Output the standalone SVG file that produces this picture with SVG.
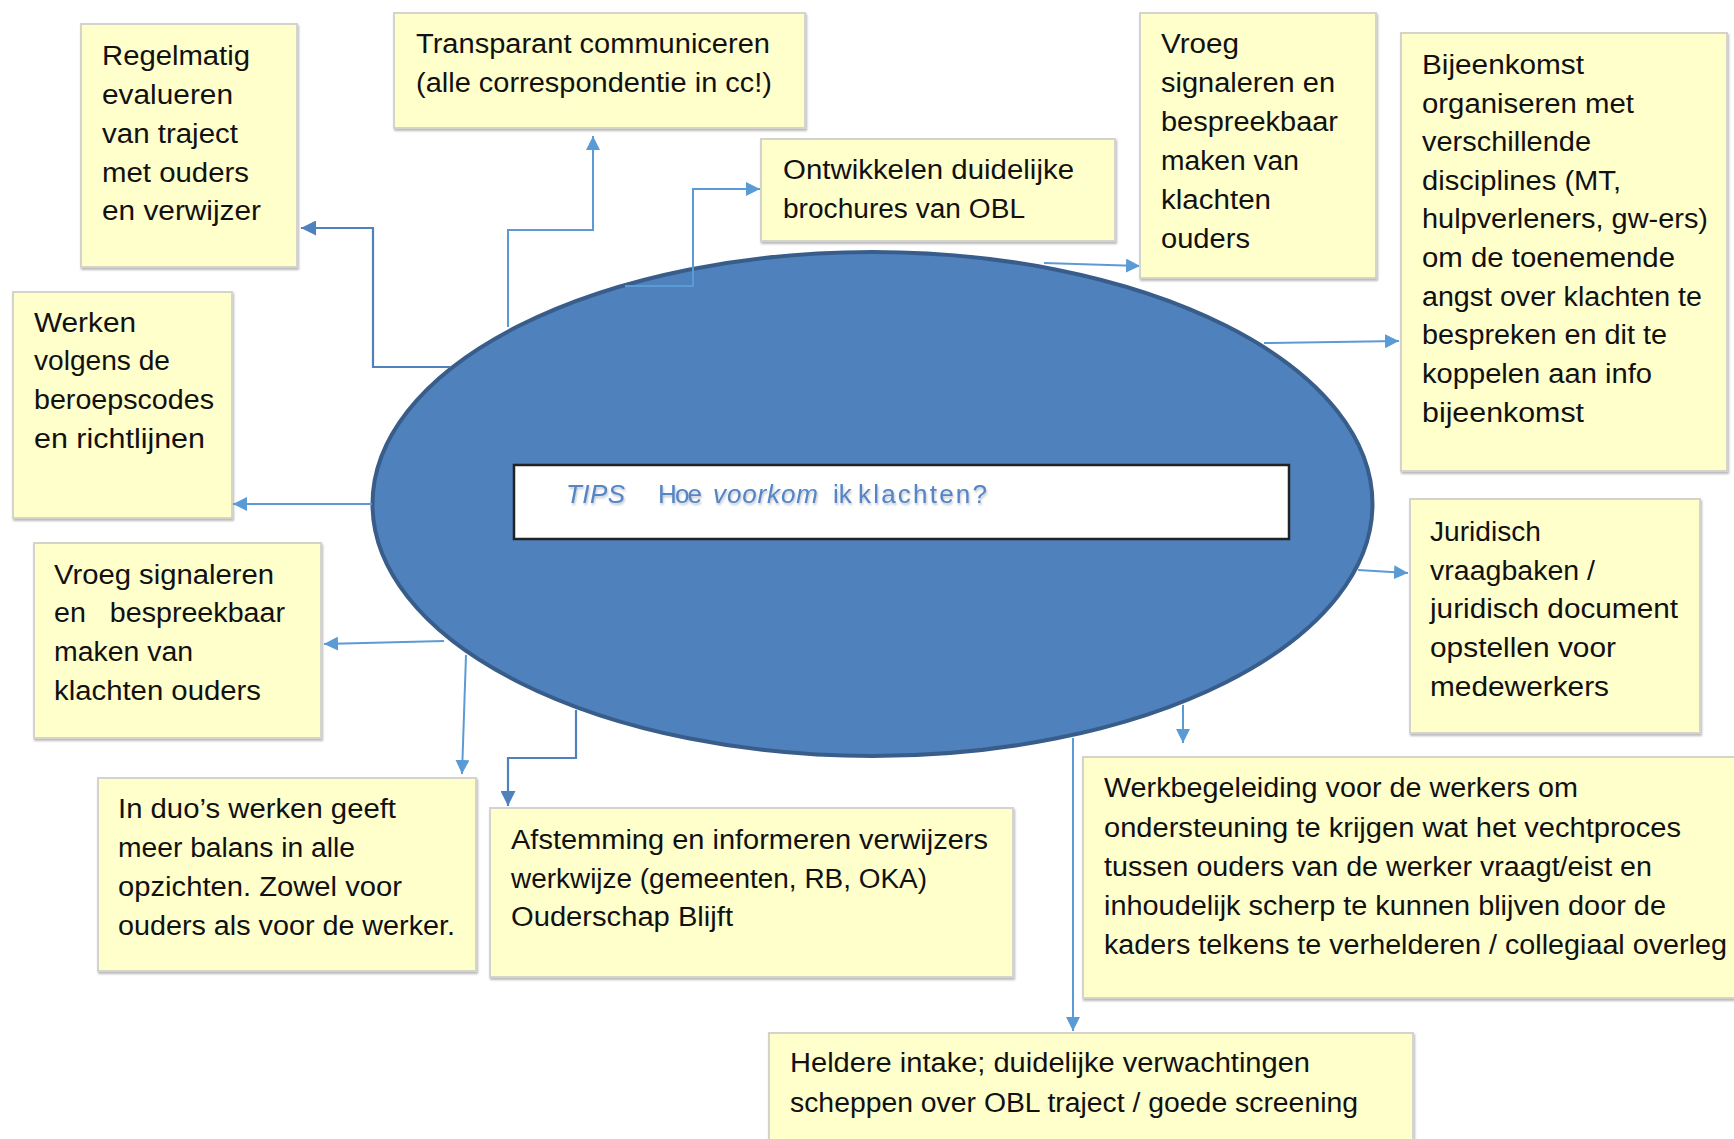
<svg xmlns="http://www.w3.org/2000/svg" width="1734" height="1139" viewBox="0 0 1734 1139">
<style>
.box{fill:#FFFFCC;stroke:#D4D4CC;stroke-width:2}
.t{font-family:"Liberation Sans",Arial,sans-serif;font-size:27px;fill:#111}
.c1{fill:none;stroke:#4F81BD;stroke-width:2.2}
.c2{fill:none;stroke:#5B9BD5;stroke-width:2}
.tips{font-family:"Liberation Sans",Arial,sans-serif;font-size:26px;fill:#5585C4}
.it{font-style:italic}
</style>
<defs>
<marker id="a2" viewBox="0 0 10 10" refX="10" refY="5" markerWidth="14" markerHeight="14" markerUnits="userSpaceOnUse" orient="auto">
<path d="M0,0 L10,5 L0,10 z" fill="#5B9BD5"/>
</marker>
<marker id="b1" viewBox="0 0 10 10" refX="10" refY="5" markerWidth="15" markerHeight="15" markerUnits="userSpaceOnUse" orient="auto">
<path d="M0,0 L10,5 L0,10 z" fill="#4F81BD"/>
</marker>
<filter id="sh" x="-5%" y="-5%" width="110%" height="115%">
<feGaussianBlur in="SourceAlpha" stdDeviation="1"/>
<feOffset dx="1" dy="1.5" result="o"/>
<feFlood flood-color="#8a8a8a" flood-opacity="0.6"/>
<feComposite in2="o" operator="in"/>
<feMerge><feMergeNode/><feMergeNode in="SourceGraphic"/></feMerge>
</filter>
<filter id="ts" x="-10%" y="-20%" width="120%" height="150%">
<feGaussianBlur in="SourceAlpha" stdDeviation="0.8"/>
<feOffset dx="1" dy="1.5" result="o"/>
<feFlood flood-color="#7a8aa0" flood-opacity="0.5"/>
<feComposite in2="o" operator="in"/>
<feMerge><feMergeNode/><feMergeNode in="SourceGraphic"/></feMerge>
</filter>
</defs>
<rect width="1734" height="1139" fill="#fff"/>

<g id="center">
<ellipse cx="872.5" cy="504" rx="500" ry="252" fill="#4F81BD" stroke="#385D8A" stroke-width="4"/>
<rect x="514" y="465" width="775" height="74" fill="#fff" stroke="#222" stroke-width="2.5"/>
<g filter="url(#ts)">
<text class="tips it" x="566" y="503" textLength="59">TIPS</text>
<text class="tips" x="658" y="503" textLength="44">Hoe</text>
<text class="tips it" x="713" y="503" textLength="105">voorkom</text>
<text class="tips" x="833" y="503">ik</text>
<text class="tips" x="858" y="503" textLength="129">klachten?</text>
</g>
</g>

<g id="connectors">
<path class="c1" d="M450 367 H373 V228 H301" marker-end="url(#b1)"/>
<path class="c2" d="M508 327 V230 H593 V136" marker-end="url(#a2)"/>
<path class="c2" d="M625 286 H693 V189 H760" marker-end="url(#a2)"/>
<path class="c2" d="M1044 263 L1140 266" marker-end="url(#a2)"/>
<path class="c2" d="M1264 343 L1399 341" marker-end="url(#a2)"/>
<path class="c2" d="M372 504 H233" marker-end="url(#a2)"/>
<path class="c2" d="M444 641 L324 644" marker-end="url(#a2)"/>
<path class="c2" d="M466 655 L462 774" marker-end="url(#a2)"/>
<path class="c1" d="M576 710 V758 H508 V806" marker-end="url(#b1)"/>
<path class="c2" d="M1358 570 L1408 573" marker-end="url(#a2)"/>
<path class="c2" d="M1183 705 V743" marker-end="url(#a2)"/>
<path class="c2" d="M1073 738 V1031" marker-end="url(#a2)"/>
</g>

<g id="n-regelmatig">
<rect class="box" x="81" y="24" width="216" height="243" filter="url(#sh)"/>
<text class="t"><tspan x="102" y="65" textLength="148" lengthAdjust="spacingAndGlyphs">Regelmatig</tspan><tspan x="102" y="104" textLength="131" lengthAdjust="spacingAndGlyphs">evalueren</tspan><tspan x="102" y="143" textLength="136" lengthAdjust="spacingAndGlyphs">van traject</tspan><tspan x="102" y="182" textLength="147" lengthAdjust="spacingAndGlyphs">met ouders</tspan><tspan x="102" y="220" textLength="159" lengthAdjust="spacingAndGlyphs">en verwijzer</tspan></text>
</g>

<g id="n-transparant">
<rect class="box" x="394" y="13" width="411" height="115" filter="url(#sh)"/>
<text class="t"><tspan x="416" y="53" textLength="354" lengthAdjust="spacingAndGlyphs">Transparant communiceren</tspan><tspan x="416" y="92" textLength="356" lengthAdjust="spacingAndGlyphs">(alle correspondentie in cc!)</tspan></text>
</g>

<g id="n-ontwikkelen">
<rect class="box" x="761" y="139" width="354" height="102" filter="url(#sh)"/>
<text class="t"><tspan x="783" y="179" textLength="291" lengthAdjust="spacingAndGlyphs">Ontwikkelen duidelijke</tspan><tspan x="783" y="218" textLength="242" lengthAdjust="spacingAndGlyphs">brochures van OBL</tspan></text>
</g>

<g id="n-vroeg-top">
<rect class="box" x="1140" y="13" width="236" height="265" filter="url(#sh)"/>
<text class="t"><tspan x="1161" y="53" textLength="78" lengthAdjust="spacingAndGlyphs">Vroeg</tspan><tspan x="1161" y="92" textLength="174" lengthAdjust="spacingAndGlyphs">signaleren en</tspan><tspan x="1161" y="131" textLength="177" lengthAdjust="spacingAndGlyphs">bespreekbaar</tspan><tspan x="1161" y="170" textLength="138" lengthAdjust="spacingAndGlyphs">maken van</tspan><tspan x="1161" y="209" textLength="110" lengthAdjust="spacingAndGlyphs">klachten</tspan><tspan x="1161" y="248" textLength="89" lengthAdjust="spacingAndGlyphs">ouders</tspan></text>
</g>

<g id="n-bijeenkomst">
<rect class="box" x="1401" y="33" width="326" height="438" filter="url(#sh)"/>
<text class="t"><tspan x="1422" y="74" textLength="162" lengthAdjust="spacingAndGlyphs">Bijeenkomst</tspan><tspan x="1422" y="113" textLength="212" lengthAdjust="spacingAndGlyphs">organiseren met</tspan><tspan x="1422" y="151" textLength="169" lengthAdjust="spacingAndGlyphs">verschillende</tspan><tspan x="1422" y="190" textLength="199" lengthAdjust="spacingAndGlyphs">disciplines (MT,</tspan><tspan x="1422" y="228" textLength="286" lengthAdjust="spacingAndGlyphs">hulpverleners, gw-ers)</tspan><tspan x="1422" y="267" textLength="253" lengthAdjust="spacingAndGlyphs">om de toenemende</tspan><tspan x="1422" y="306" textLength="280" lengthAdjust="spacingAndGlyphs">angst over klachten te</tspan><tspan x="1422" y="344" textLength="245" lengthAdjust="spacingAndGlyphs">bespreken en dit te</tspan><tspan x="1422" y="383" textLength="230" lengthAdjust="spacingAndGlyphs">koppelen aan info</tspan><tspan x="1422" y="422" textLength="162" lengthAdjust="spacingAndGlyphs">bijeenkomst</tspan></text>
</g>

<g id="n-werken">
<rect class="box" x="13" y="292" width="219" height="226" filter="url(#sh)"/>
<text class="t"><tspan x="34" y="332" textLength="102" lengthAdjust="spacingAndGlyphs">Werken</tspan><tspan x="34" y="370" textLength="136" lengthAdjust="spacingAndGlyphs">volgens de</tspan><tspan x="34" y="409" textLength="180" lengthAdjust="spacingAndGlyphs">beroepscodes</tspan><tspan x="34" y="448" textLength="171" lengthAdjust="spacingAndGlyphs">en richtlijnen</tspan></text>
</g>

<g id="n-vroeg-left">
<rect class="box" x="34" y="543" width="287" height="195" filter="url(#sh)"/>
<text class="t" style="white-space:pre"><tspan x="54" y="584" textLength="220" lengthAdjust="spacingAndGlyphs">Vroeg signaleren</tspan><tspan x="54" y="622" textLength="231" lengthAdjust="spacingAndGlyphs">en   bespreekbaar</tspan><tspan x="54" y="661" textLength="139" lengthAdjust="spacingAndGlyphs">maken van</tspan><tspan x="54" y="700" textLength="207" lengthAdjust="spacingAndGlyphs">klachten ouders</tspan></text>
</g>

<g id="n-duo">
<rect class="box" x="98" y="778" width="378" height="193" filter="url(#sh)"/>
<text class="t"><tspan x="118" y="818" textLength="278" lengthAdjust="spacingAndGlyphs">In duo’s werken geeft</tspan><tspan x="118" y="857" textLength="237" lengthAdjust="spacingAndGlyphs">meer balans in alle</tspan><tspan x="118" y="896" textLength="284" lengthAdjust="spacingAndGlyphs">opzichten. Zowel voor</tspan><tspan x="118" y="935" textLength="337" lengthAdjust="spacingAndGlyphs">ouders als voor de werker.</tspan></text>
</g>

<g id="n-afstemming">
<rect class="box" x="490" y="808" width="523" height="169" filter="url(#sh)"/>
<text class="t"><tspan x="511" y="849" textLength="477" lengthAdjust="spacingAndGlyphs">Afstemming en informeren verwijzers</tspan><tspan x="511" y="888" textLength="416" lengthAdjust="spacingAndGlyphs">werkwijze (gemeenten, RB, OKA)</tspan><tspan x="511" y="926" textLength="222" lengthAdjust="spacingAndGlyphs">Ouderschap Blijft</tspan></text>
</g>

<g id="n-heldere">
<rect class="box" x="769" y="1033" width="644" height="110" filter="url(#sh)"/>
<text class="t"><tspan x="790" y="1072" textLength="520" lengthAdjust="spacingAndGlyphs">Heldere intake; duidelijke verwachtingen</tspan><tspan x="790" y="1112" textLength="568" lengthAdjust="spacingAndGlyphs">scheppen over OBL traject / goede screening</tspan></text>
</g>

<g id="n-juridisch">
<rect class="box" x="1410" y="499" width="290" height="234" filter="url(#sh)"/>
<text class="t"><tspan x="1430" y="541" textLength="111" lengthAdjust="spacingAndGlyphs">Juridisch</tspan><tspan x="1430" y="580" textLength="165" lengthAdjust="spacingAndGlyphs">vraagbaken /</tspan><tspan x="1430" y="618" textLength="248" lengthAdjust="spacingAndGlyphs">juridisch document</tspan><tspan x="1430" y="657" textLength="186" lengthAdjust="spacingAndGlyphs">opstellen voor</tspan><tspan x="1430" y="696" textLength="179" lengthAdjust="spacingAndGlyphs">medewerkers</tspan></text>
</g>

<g id="n-werkbegeleiding">
<rect class="box" x="1083" y="757" width="660" height="241" filter="url(#sh)"/>
<text class="t"><tspan x="1104" y="797" textLength="474" lengthAdjust="spacingAndGlyphs">Werkbegeleiding voor de werkers om</tspan><tspan x="1104" y="837" textLength="577" lengthAdjust="spacingAndGlyphs">ondersteuning te krijgen wat het vechtproces</tspan><tspan x="1104" y="876" textLength="548" lengthAdjust="spacingAndGlyphs">tussen ouders van de werker vraagt/eist en</tspan><tspan x="1104" y="915" textLength="562" lengthAdjust="spacingAndGlyphs">inhoudelijk scherp te kunnen blijven door de</tspan><tspan x="1104" y="954" textLength="623" lengthAdjust="spacingAndGlyphs">kaders telkens te verhelderen / collegiaal overleg</tspan></text>
</g>
</svg>
